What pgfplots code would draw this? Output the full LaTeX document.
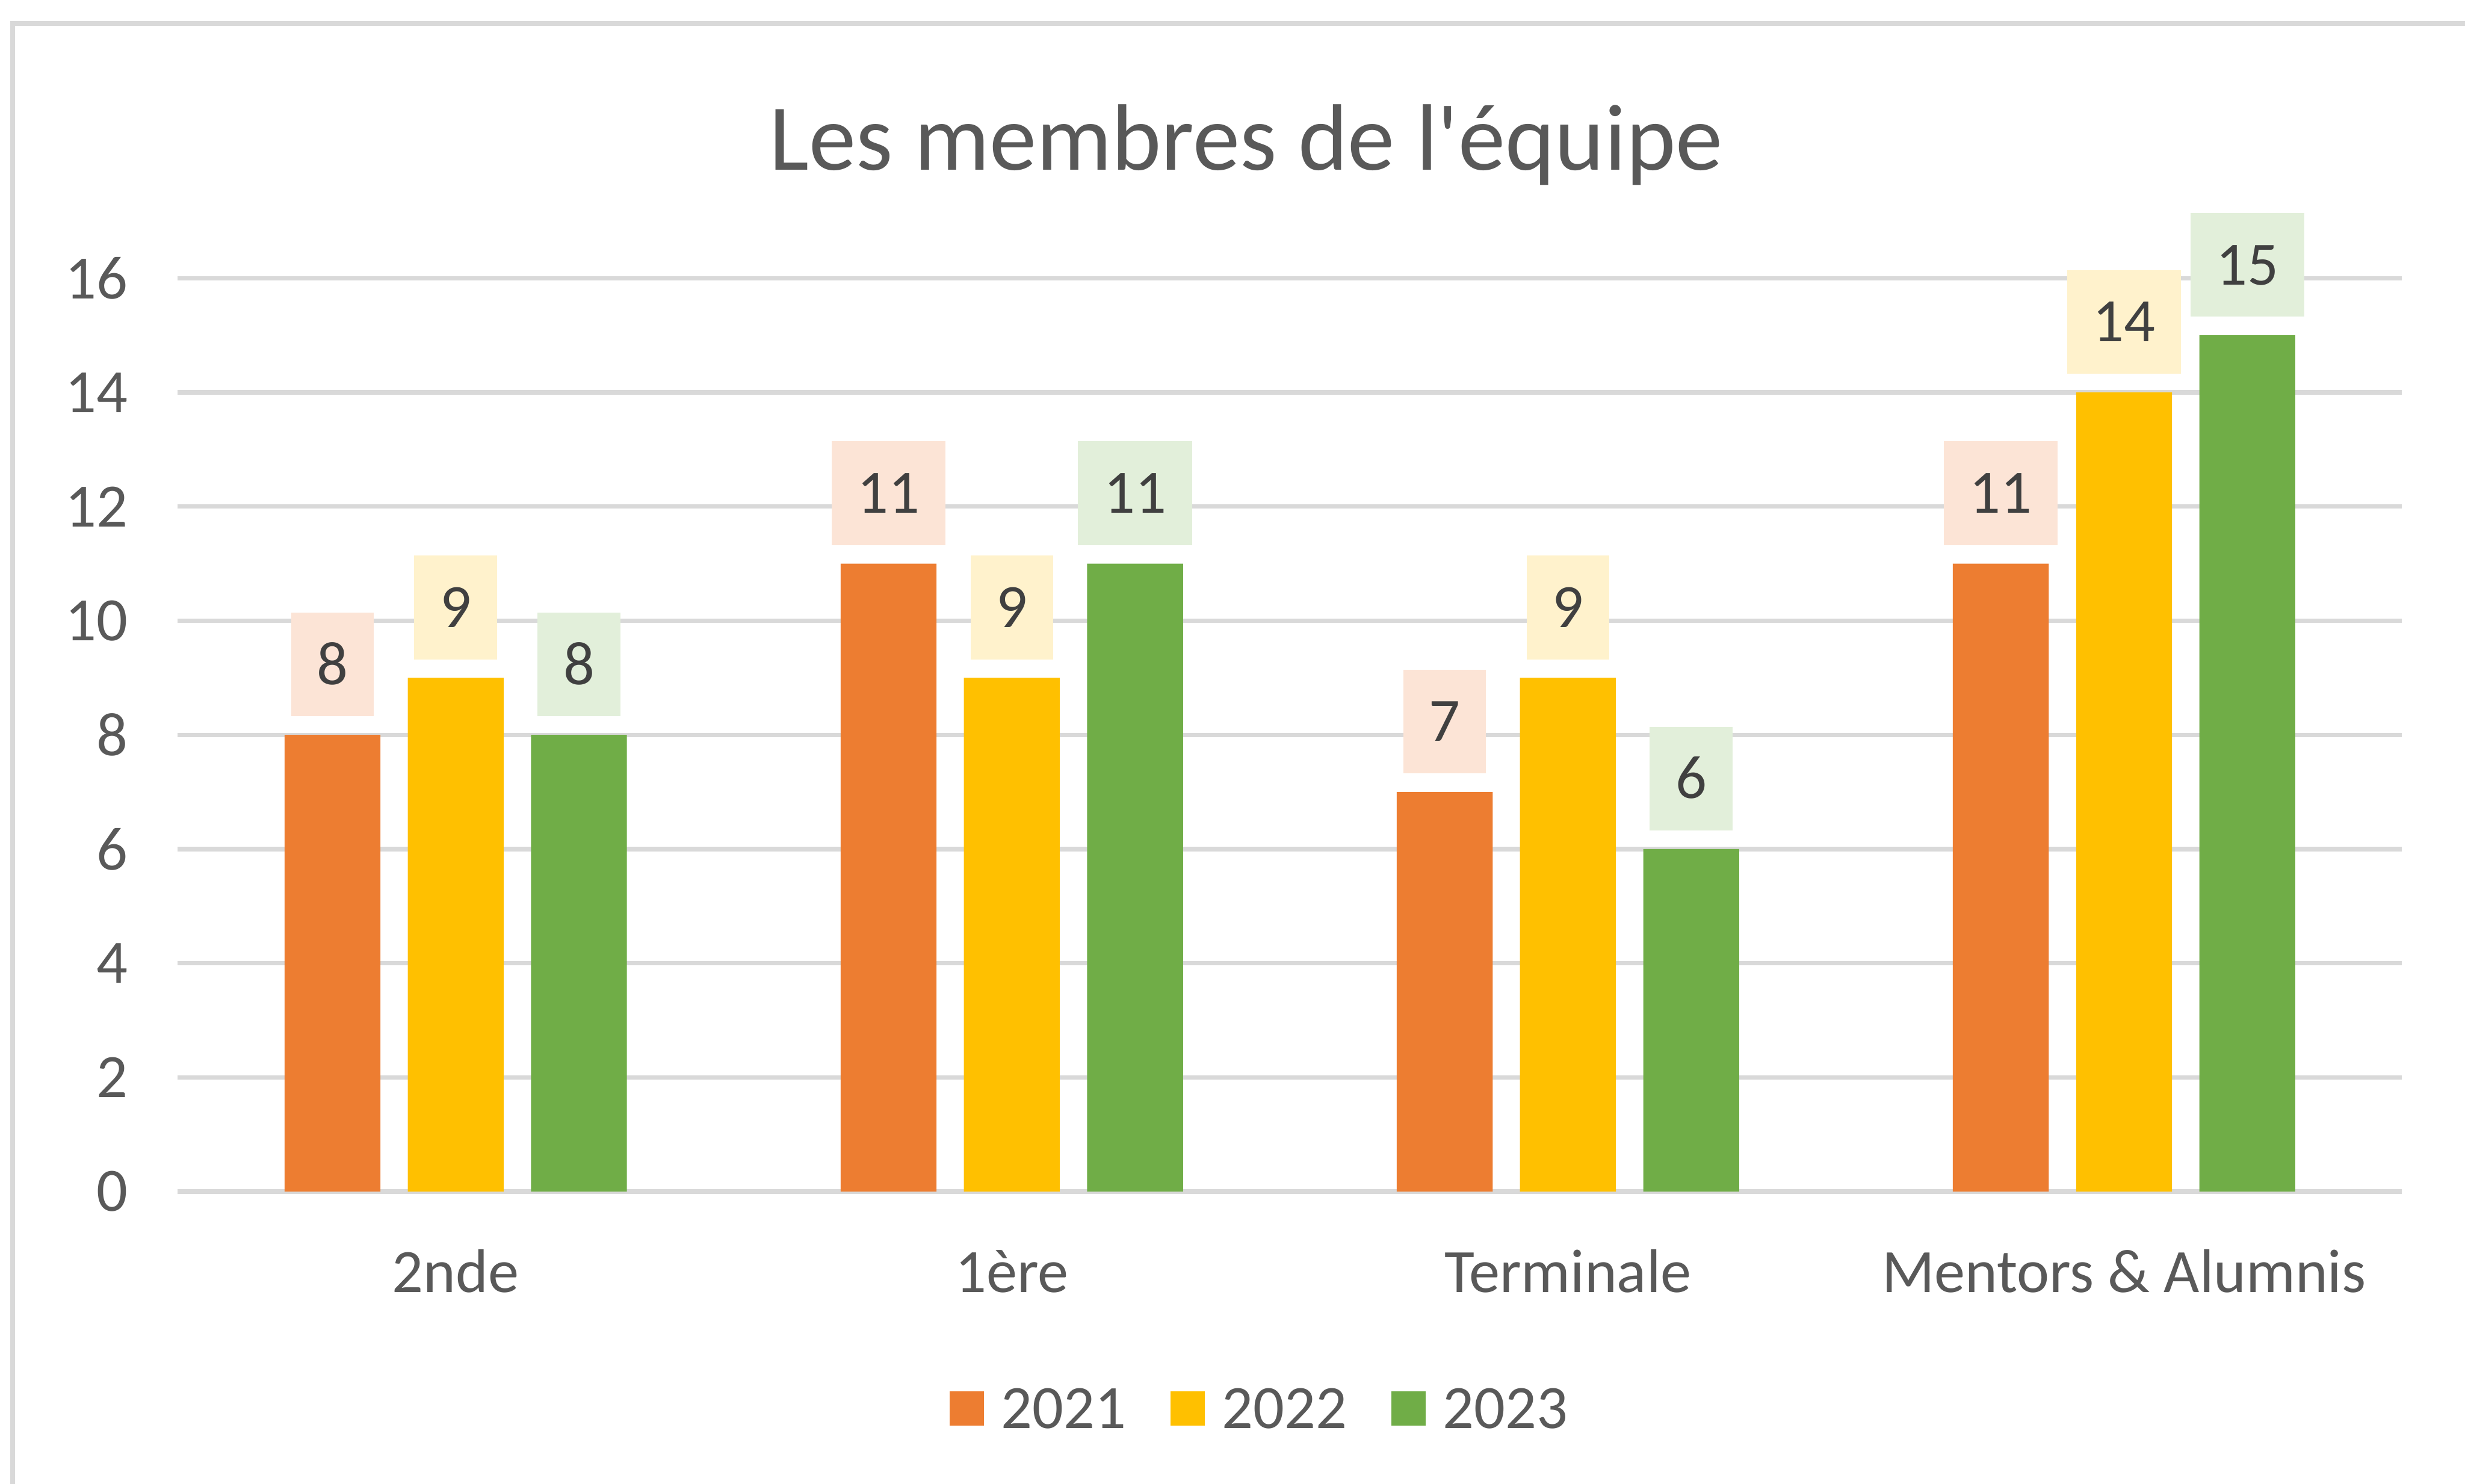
\documentclass[border=0pt]{standalone}
\usepackage{pgfplots}
\pgfplotsset{compat=1.18}
\usepackage{fontspec}
\setmainfont{Carlito}
\definecolor{c21}{HTML}{ED7D31}
\definecolor{c22}{HTML}{FFC000}
\definecolor{c23}{HTML}{70AD47}
\definecolor{l21}{HTML}{FCE4D6}
\definecolor{l22}{HTML}{FFF2CC}
\definecolor{l23}{HTML}{E2EFDA}
\definecolor{txt}{HTML}{595959}
\definecolor{lbl}{HTML}{404040}
\definecolor{gridc}{HTML}{D9D9D9}
\definecolor{bordc}{HTML}{D9D9D9}
\begin{document}
\begin{tikzpicture}
\useasboundingbox (-28.25pt,-46.5pt) rectangle (363.75pt,189.5pt);
\fill[white] (-28.25pt,-46.5pt) rectangle (363.75pt,189.5pt);
\draw[color=bordc, line width=0.8pt] (-26.25pt,-80pt) -- (-26.25pt,185.75pt) -- (400pt,185.75pt);
\begin{axis}[
  at={(0pt,0pt)}, anchor=south west,
  scale only axis, width=353.75pt, height=145.25pt,
  xmin=-0.5, xmax=3.5, ymin=0, ymax=16,
  ytick={0,2,...,16},
  xtick={0,1,2,3},
  xticklabels={2nde,1ère,Terminale,Mentors \& Alumnis},
  /pgf/number format/assume math mode=true,
  axis line style={draw=none},
  major tick length=0pt,
  tick style={draw=none},
  ymajorgrids,
  grid style={gridc, line width=0.7pt},
  tick label style={font=\fontsize{9.8}{11}\selectfont, text=txt},
  yticklabel style={anchor=east, inner sep=0pt, xshift=-7.75pt},
  xticklabel style={anchor=base, inner sep=0pt, yshift=-16pt},
  nodes near coords,
  every node near coord/.append style={font=\fontsize{9.8}{11}\selectfont, text=lbl, anchor=south, inner xsep=4.1pt, inner ysep=0pt, minimum height=16.5pt, text height=6.3pt, text depth=0pt, yshift=2.75pt},
  legend image code/.code={\fill[#1] (0pt,-2.75pt) rectangle (5.5pt,2.75pt);},
  legend columns=-1,
  legend style={at={(axis description cs:0.486,-0.2375)}, anchor=center, draw=none, fill=none, inner sep=0pt,
    font=\fontsize{9.8}{11}\selectfont, text=txt,
    nodes={inner sep=0pt, text depth=0pt},
    /tikz/every odd column/.append style={column sep=2.75pt},
    /tikz/every even column/.append style={column sep=7pt}},
]
\addplot[ybar, bar width=15.25pt, bar shift=-19.6pt, fill=c21, draw=none,
  every node near coord/.append style={fill=l21, xshift=-19.6pt}] coordinates {(0,8) (1,11) (2,7) (3,11)};
\addplot[ybar, bar width=15.25pt, bar shift=0pt, fill=c22, draw=none,
  every node near coord/.append style={fill=l22}] coordinates {(0,9) (1,9) (2,9) (3,14)};
\addplot[ybar, bar width=15.25pt, bar shift=19.6pt, fill=c23, draw=none,
  every node near coord/.append style={fill=l23, xshift=19.6pt}] coordinates {(0,8) (1,11) (2,6) (3,15)};
\legend{2021,2022,2023}
\end{axis}
\node[anchor=base, font=\fontsize{15}{18}\selectfont, text=txt, inner sep=0pt] at (169.9pt,162.5pt) {Les membres de l\textquotesingle équipe};
\end{tikzpicture}
\end{document}
